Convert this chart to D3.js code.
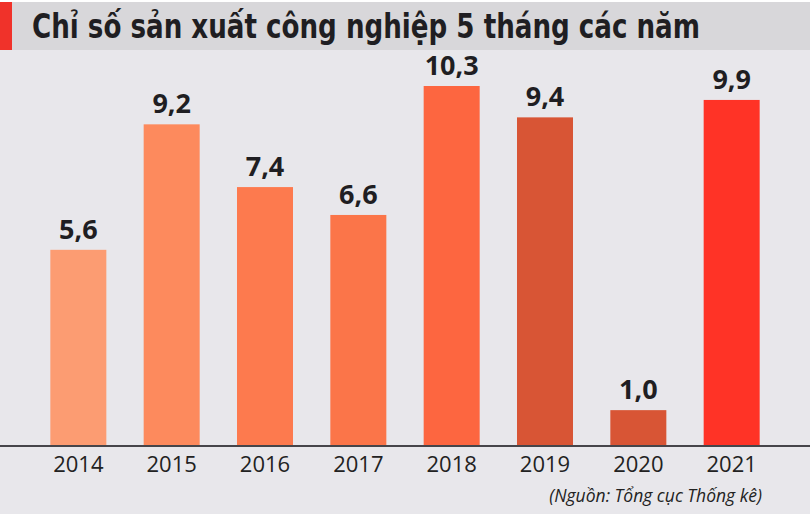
<!DOCTYPE html>
<html>
<head>
<meta charset="utf-8">
<script src="https://cdn.jsdelivr.net/npm/d3@7"></script>
<style>
  html, body { margin: 0; padding: 0; background: #ffffff; }
  svg { display: block; }
</style>
</head>
<body>
<div id="app"></div>
<script>
var years = ["2014", "2015", "2016", "2017", "2018", "2019", "2020", "2021"];
var values = [5.6, 9.2, 7.4, 6.6, 10.3, 9.4, 1.0, 9.9];
var title = "Chỉ số sản xuất công nghiệp 5 tháng các năm";
var source = "(Nguồn: Tổng cục Thống kê)";

var barColors = ["#fc9c72", "#fd8a5d", "#fd7a4e", "#fb7549", "#fd6640", "#d85535", "#d85535", "#ff3326"];

var width = 810;
var height = 518;

var svg = d3.select("#app").append("svg")
            .attr("width", width)
            .attr("height", height);

// background
svg.append("rect")
    .attr("x", 0).attr("y", 2)
    .attr("width", width).attr("height", height - 6)
    .attr("fill", "#e8e7eb");

// title band
svg.append("rect")
    .attr("x", 0).attr("y", 2)
    .attr("width", width).attr("height", 48)
    .attr("fill", "#d8d7da");
svg.append("rect")
    .attr("x", 0).attr("y", 2)
    .attr("width", 12).attr("height", 48)
    .attr("fill", "#f0322a");
svg.append("text")
    .attr("x", 32).attr("y", 38)
    .attr("font-family", "'Liberation Sans Narrow', 'DejaVu Sans Condensed', sans-serif")
    .attr("font-weight", "bold")
    .attr("font-size", 33)
    .attr("textLength", 668)
    .attr("lengthAdjust", "spacingAndGlyphs")
    .attr("fill", "#1f1e22")
    .text(title);

var x = d3.scaleBand()
    .domain(years)
    .range([13, 797])
    .paddingInner(0.4)
    .paddingOuter(0.4);

var y = d3.scaleLinear()
    .domain([0, 10.3])
    .range([445, 86]);

var chart = svg.append("g");

chart.selectAll("rect.bar")
    .data(values)
    .enter().append("rect")
    .attr("class", "bar")
    .attr("x", function(d, i) { return x(years[i]); })
    .attr("y", function(d) { return y(d); })
    .attr("width", x.bandwidth())
    .attr("height", function(d) { return y(0) - y(d); })
    .attr("fill", function(d, i) { return barColors[i]; });

chart.selectAll("text.val")
    .data(values)
    .enter().append("text")
    .attr("class", "val")
    .attr("x", function(d, i) { return x(years[i]) + x.bandwidth() / 2; })
    .attr("y", function(d) { return y(d) - 11; })
    .attr("text-anchor", "middle")
    .attr("font-family", "'Open Sans', sans-serif")
    .attr("font-weight", "bold")
    .attr("font-size", 27)
    .attr("fill", "#1f1e22")
    .text(function(d) { return d3.format(".1f")(d).replace(".", ","); });

var axis = svg.append("g")
    .attr("transform", "translate(0," + y(0) + ")")
    .call(d3.axisBottom(x).tickSize(0).tickPadding(11));
axis.select(".domain").remove();
axis.selectAll("text")
    .attr("font-family", "'Open Sans', sans-serif")
    .attr("font-size", 22)
    .attr("fill", "#222");

svg.append("line")
    .attr("x1", 0).attr("x2", width)
    .attr("y1", y(0) + 1).attr("y2", y(0) + 1)
    .attr("stroke", "#46454a")
    .attr("stroke-width", 2);

svg.append("text")
    .attr("x", 762).attr("y", 502)
    .attr("text-anchor", "end")
    .attr("font-family", "'Open Sans', sans-serif")
    .attr("font-style", "italic")
    .attr("font-size", 17.5)
    .attr("fill", "#222")
    .text(source);
</script>
</body>
</html>
